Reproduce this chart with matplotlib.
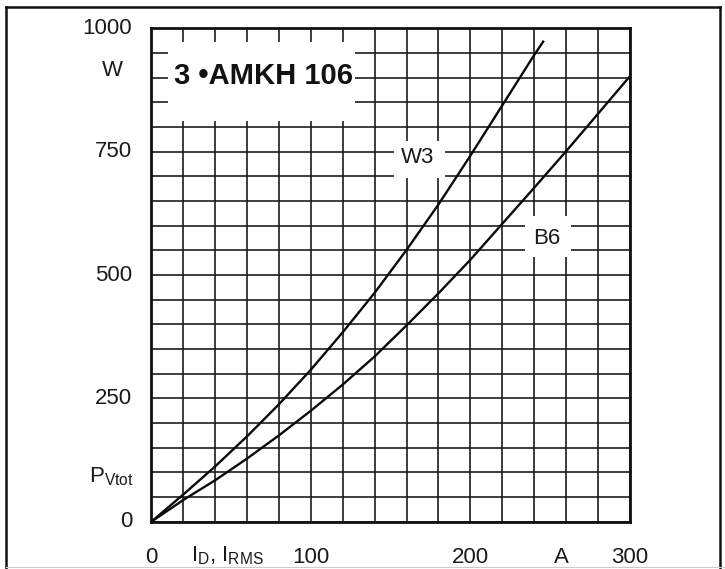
import matplotlib
matplotlib.use("Agg")
import matplotlib.pyplot as plt
from matplotlib.patches import Rectangle
from matplotlib.lines import Line2D
import numpy as np

# ---- data ----
current_w3 = [0, 20, 40, 60, 80, 100, 120, 140, 160, 180, 200, 220, 240, 246]
power_w3 = [0, 55, 112, 173, 238, 308, 384, 464, 551, 643, 742, 844, 946, 975]

current_b6 = [0, 20, 40, 60, 80, 100, 120, 140, 160, 180, 200, 220, 240, 260, 280, 300]
power_b6 = [0, 44, 84, 128, 175, 225, 278, 335, 398, 463, 531, 604, 677, 751, 827, 903]

x_tick_values = [0, 100, 200, 300]
x_tick_labels = ["0", "100", "200", "300"]
y_tick_values = [0, 250, 500, 750, 1000]
y_tick_labels = ["0", "250", "500", "750", "1000"]

title_text = "3 \u2022AMKH 106"
curve_names = ["W3", "B6"]

plt.rcParams['font.family'] = ['Liberation Sans', 'DejaVu Sans']
plt.rcParams['mathtext.default'] = 'regular'

W, H = 725, 569
fig = plt.figure(figsize=(W / 100, H / 100), dpi=100)
fig.patch.set_facecolor('white')

x0, x1 = 151.2, 630.0
y0, y1 = 521.8, 28.3
ax = fig.add_axes([x0 / W, 1 - y0 / H, (x1 - x0) / W, (y0 - y1) / H])
ax.set_xlim(0, 300)
ax.set_ylim(0, 1000)

grid_col = '#1c1c1c'
ax.set_xticks(np.arange(0, 301, 20))
ax.set_yticks(np.arange(0, 1001, 50))
ax.set_xticklabels([])
ax.set_yticklabels([])
ax.tick_params(length=0)
ax.grid(True, color=grid_col, linewidth=1.2)
ax.set_axisbelow(True)
for s in ax.spines.values():
    s.set_linewidth(2.0)
    s.set_color('#111111')

# curves
ax.plot(current_w3, power_w3, color='#0a0a0a', lw=1.7, zorder=3, solid_capstyle='butt')
ax.plot(current_b6, power_b6, color='#0a0a0a', lw=1.7, zorder=3, solid_capstyle='butt')

# white boxes (cut-outs in the grid)
ax.add_patch(Rectangle((10.5, 812), 117.5, 160, facecolor='white', edgecolor='none', zorder=2))
ax.add_patch(Rectangle((152, 697), 32, 75, facecolor='white', edgecolor='none', zorder=2))
ax.add_patch(Rectangle((234, 536), 29, 84, facecolor='white', edgecolor='none', zorder=2))

txt_col = '#1a1a1a'
fs = 16
ax.text(70.5, 903, title_text, fontsize=21, fontweight='bold', ha='center', va='center',
        color='#111111', zorder=4)
ax.text(167, 738, curve_names[0], fontsize=fs, ha='center', va='center', color=txt_col, zorder=4)
ax.text(248, 575, curve_names[1], fontsize=fs, ha='center', va='center', color=txt_col, zorder=4)

# y tick labels
for v, lab in zip(y_tick_values, y_tick_labels):
    ax.annotate(lab, xy=(0, v), xycoords=('axes fraction', 'data'), xytext=(-13.7, 0),
                textcoords='offset points', ha='right', va='center', fontsize=fs,
                color=txt_col, annotation_clip=False)
# x tick labels
for v, lab in zip(x_tick_values, x_tick_labels):
    ax.annotate(lab, xy=(v, 0), xycoords=('data', 'axes fraction'), xytext=(0, -29.5),
                textcoords='offset points', ha='center', va='baseline', fontsize=fs,
                color=txt_col, annotation_clip=False)

# axis unit / quantity labels
ax.annotate("W", xy=(0, 914), xycoords=('axes fraction', 'data'), xytext=(-28.2, 0),
            textcoords='offset points', ha='center', va='center', fontsize=fs,
            color=txt_col, annotation_clip=False)
ax.annotate(r"$P_{Vtot}$", xy=(0, 79), xycoords=('axes fraction', 'data'), xytext=(-12.5, 0),
            textcoords='offset points', ha='right', va='baseline', fontsize=fs,
            color=txt_col, annotation_clip=False)
ax.annotate("A", xy=(257, 0), xycoords=('data', 'axes fraction'), xytext=(0, -29.5),
            textcoords='offset points', ha='center', va='baseline', fontsize=fs,
            color=txt_col, annotation_clip=False)
ax.annotate(r"$I_D$, $I_{RMS}$", xy=(47.5, 0), xycoords=('data', 'axes fraction'), xytext=(0, -28.8),
            textcoords='offset points', ha='center', va='baseline', fontsize=fs,
            color=txt_col, annotation_clip=False)

# outer frame of the figure
def px_line(xs, ys, **kw):
    fig.add_artist(Line2D([x / W for x in xs], [1 - y / H for y in ys],
                          transform=fig.transFigure, **kw))

px_line([6, 6], [7, 569], color='#111111', lw=1.8)
px_line([6, 720], [7, 7], color='#111111', lw=1.8)
px_line([720, 720], [7, 569], color='#111111', lw=1.8)
px_line([6, 725], [567, 567], color='#cccccc', lw=0.8)

fig.savefig("out.png", dpi=100, facecolor='white')
